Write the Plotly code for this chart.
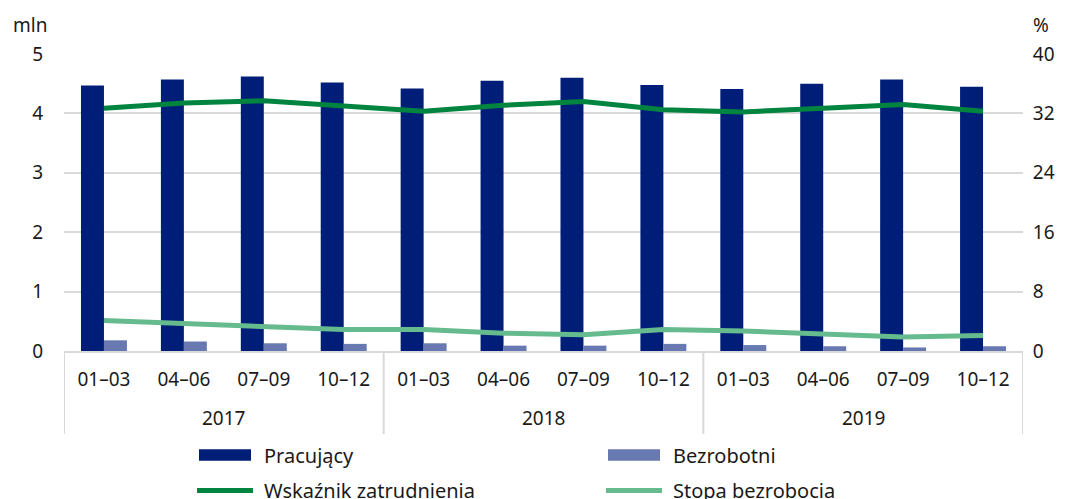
import plotly.graph_objects as go

years = ["2017", "2018", "2019"]
quarters = ["01–03", "04–06", "07–09", "10–12"]

pracujacy = [4.47, 4.57, 4.62, 4.52, 4.42, 4.55, 4.60, 4.48, 4.41, 4.50, 4.57, 4.45]
bezrobotni = [0.18, 0.16, 0.13, 0.12, 0.13, 0.09, 0.09, 0.12, 0.10, 0.08, 0.06, 0.08]
wskaznik = [32.7, 33.4, 33.7, 33.0, 32.3, 33.1, 33.6, 32.5, 32.2, 32.7, 33.2, 32.3]
stopa = [4.1, 3.7, 3.2, 2.9, 2.9, 2.4, 2.2, 2.9, 2.7, 2.3, 1.9, 2.1]

left_ticks = [0, 1, 2, 3, 4, 5]
right_ticks = [0, 8, 16, 24, 32, 40]

FONT = "Noto Sans"
FS = 19
TEXT = "#1a1a1a"
GRID = "#D9D9D9"
C_PRAC = "#001E78"
C_BEZR = "#6878B0"
C_WSK = "#00843F"
C_STOPA = "#66BB8E"

W, H = 1069, 499
ML, MR, MT, MB = 64, 46, 54, 148
PW, PH = W - ML - MR, H - MT - MB

def px2x(px):
    return (px - ML) / PW

def py2y(py):
    return (H - MB - py) / PH

# unique category keys, displayed with quarter labels
cats = [f"{y} {q}" for y in years for q in quarters]
ticktext = [q for y in years for q in quarters]

fig = go.Figure()
fig.add_trace(go.Bar(x=cats, y=pracujacy, name="Pracujący", marker_color=C_PRAC,
                     marker_line_width=0))
fig.add_trace(go.Bar(x=cats, y=bezrobotni, name="Bezrobotni", marker_color=C_BEZR,
                     marker_line_width=0))
fig.add_trace(go.Scatter(x=cats, y=wskaznik, name="Wskaźnik zatrudnienia", mode="lines",
                         line=dict(color=C_WSK, width=5), yaxis="y2"))
fig.add_trace(go.Scatter(x=cats, y=stopa, name="Stopa bezrobocia", mode="lines",
                         line=dict(color=C_STOPA, width=5), yaxis="y2"))

shapes = []
annotations = []

# group dividers and year labels
nq = len(quarters)
for i, yr in enumerate(years):
    annotations.append(dict(text=yr, xref="x", yref="paper", x=i * nq + (nq - 1) / 2,
                            y=py2y(418), xanchor="center", yanchor="middle",
                            showarrow=False, font=dict(size=FS, family=FONT, color=TEXT)))
for k in range(len(years) + 1):
    shapes.append(dict(type="line", xref="x", yref="paper", x0=k * nq - 0.5, x1=k * nq - 0.5,
                       y0=0, y1=py2y(434), line=dict(color=GRID, width=2)))

# legend (manual, two columns)
legend_items = [
    ("Pracujący", C_PRAC, "bar", 199, 251, 262, 455),
    ("Bezrobotni", C_BEZR, "bar", 608, 660, 671, 455),
    ("Wskaźnik zatrudnienia", C_WSK, "line", 197, 253, 262, 490.5),
    ("Stopa bezrobocia", C_STOPA, "line", 606, 662, 671, 490.5),
]
for name, col, kind, sx0, sx1, tx, cy in legend_items:
    if kind == "bar":
        shapes.append(dict(type="rect", xref="paper", yref="paper",
                           x0=px2x(sx0), x1=px2x(sx1), y0=py2y(cy + 5.7), y1=py2y(cy - 5.7),
                           fillcolor=col, line=dict(width=0)))
    else:
        shapes.append(dict(type="line", xref="paper", yref="paper",
                           x0=px2x(sx0), x1=px2x(sx1), y0=py2y(cy), y1=py2y(cy),
                           line=dict(color=col, width=5)))
    annotations.append(dict(text=name, xref="paper", yref="paper", x=px2x(tx), y=py2y(cy),
                            xanchor="left", yanchor="middle", showarrow=False,
                            font=dict(size=20, family=FONT, color=TEXT)))

annotations.append(dict(text="mln", xref="paper", yref="paper", x=px2x(29.5), y=py2y(25),
                        xanchor="center", yanchor="middle", showarrow=False,
                        font=dict(size=FS, family=FONT, color=TEXT)))
annotations.append(dict(text="%", xref="paper", yref="paper", x=px2x(1031), y=py2y(25),
                        xanchor="left", yanchor="middle", showarrow=False,
                        font=dict(size=FS, family=FONT, color=TEXT)))

fig.update_layout(
    width=W, height=H,
    margin=dict(l=ML, r=MR, t=MT, b=MB, autoexpand=False),
    paper_bgcolor="white", plot_bgcolor="white",
    font=dict(family=FONT, size=FS, color=TEXT),
    barmode="group", bargap=0.425, bargroupgap=0,
    showlegend=False,
    xaxis=dict(type="category", tickvals=cats, ticktext=ticktext, showgrid=False,
               showline=True, linecolor=GRID, linewidth=2,
               ticks="outside", ticklen=10, tickcolor="rgba(0,0,0,0)",
               tickfont=dict(size=FS, family=FONT, color=TEXT), automargin=False,
               range=[-0.5, len(cats) - 0.5]),
    yaxis=dict(range=[0, 5], tickvals=left_ticks, showgrid=True, gridcolor=GRID,
               gridwidth=2, zeroline=False, ticks="outside", ticklen=16,
               tickcolor="rgba(0,0,0,0)", tickfont=dict(size=FS, family=FONT, color=TEXT),
               automargin=False),
    yaxis2=dict(range=[0, 40], tickvals=right_ticks, overlaying="y", side="right",
                showgrid=False, zeroline=False, ticks="outside", ticklen=5,
                tickcolor="rgba(0,0,0,0)", tickfont=dict(size=FS, family=FONT, color=TEXT),
                automargin=False),
    shapes=shapes,
    annotations=annotations,
)

fig.write_html("out.html", config={"displayModeBar": False},
               post_script="document.body.style.margin='0px';")
